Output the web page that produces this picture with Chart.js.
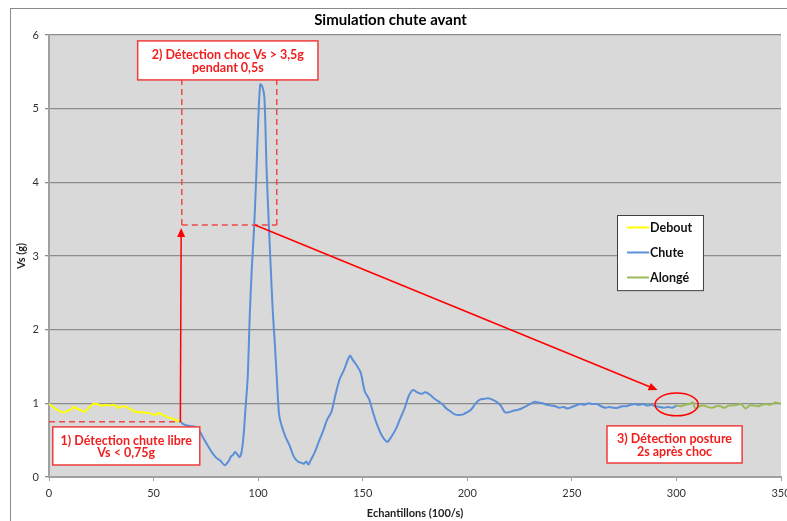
<!DOCTYPE html>
<html>
<head>
<meta charset="utf-8">
<script src="https://cdn.jsdelivr.net/npm/chart.js@4.4.0/dist/chart.umd.min.js"></script>
<style>
html, body { margin:0; padding:0; background:#fff; }
#wrap { width:787px; height:521px; }
</style>
</head>
<body>
<div id="wrap"><canvas id="chart"></canvas></div>
<script>
// echantillons (x) et Vs en g (y)
var echDebout = [0,2,4,6,7,9,10,12,13,15,17,19,21,23,25,27,29,31,33,35,37,39,41,43,45,47,49,51,52,54,56,58,60,62,63];
var vsDebout  = [0.99,0.95,0.91,0.88,0.875,0.90,0.91,0.95,0.93,0.91,0.89,0.94,0.99,0.99,0.97,0.98,0.97,0.98,0.94,0.96,0.95,0.92,0.89,0.88,0.88,0.87,0.86,0.84,0.87,0.85,0.82,0.80,0.78,0.76,0.75];

var echChute = [63,64,66,68,70,72,74,76,78,80,82,84,86,87,88,89,90,91,92,93,94,95,96,97,98,99,100,101,102,103,104,105,106,107,108,109,110,111,113,115,117,119,121,122,123,124,125,127,129,131,133,135,137,139,141,143,144,145,147,149,151,153,155,157,159,161,162,164,166,168,170,172,174,176,178,180,182,184,186,188,190,192,194,196,198,200,202,204,206,208,210,212,214,216,218,220,222,224,226,228,230,232,234,236,238,240,242,244,246,248,250,252,254,256,258,260,262,264,266,268,270,272,274,276,278,280,282,284,286,288,290,292,294,296,298,300];
var vsChute  = [0.75,0.72,0.70,0.69,0.68,0.62,0.52,0.42,0.33,0.26,0.22,0.16,0.22,0.28,0.30,0.34,0.31,0.27,0.33,0.55,0.95,1.35,2.20,2.85,3.35,4.00,4.80,5.33,5.30,5.15,4.20,3.50,2.85,2.25,1.80,1.30,0.85,0.72,0.55,0.43,0.28,0.21,0.19,0.18,0.21,0.17,0.22,0.33,0.48,0.62,0.78,0.88,1.12,1.33,1.45,1.60,1.65,1.60,1.52,1.42,1.16,1.06,0.87,0.70,0.57,0.49,0.48,0.56,0.66,0.80,0.93,1.10,1.18,1.15,1.13,1.15,1.12,1.07,1.03,0.99,0.93,0.89,0.85,0.84,0.85,0.88,0.92,1.00,1.05,1.06,1.07,1.05,1.02,0.97,0.88,0.88,0.90,0.91,0.93,0.96,0.99,1.02,1.01,1.00,0.98,0.97,0.96,0.94,0.95,0.93,0.95,0.97,0.99,0.98,1.00,0.99,0.99,0.96,0.94,0.95,0.94,0.94,0.96,0.96,0.98,0.99,0.98,0.99,0.97,0.98,0.96,0.95,0.94,0.95,0.94,0.97];

var echAllonge = [300,302,304,306,308,309,311,313,315,317,319,321,323,325,327,329,331,333,335,337,339,341,343,345,347,349,350];
var vsAllonge  = [0.97,0.96,0.98,0.99,1.01,0.93,0.96,0.97,0.95,0.94,0.96,0.96,0.94,0.97,0.97,0.98,0.99,0.93,0.97,0.97,0.96,0.98,0.99,0.98,1.01,1.00,1.00];

var xTicks = [0,50,100,150,200,250,300,350];
var yTicks = [0,1,2,3,4,5,6];

function pts(xs, ys) {
    return xs.map((x, i) => ({x: x, y: ys[i]}));
}

var rouge = "#ff0000";
var rougeClair = "#f04848";
var police = "Lato, 'Open Sans', sans-serif";

// annotations, en unites du graphique
var boites = [
    {x1:1.8, x2:72.1, y1:0.68, y2:0.163, lignes:["1) Détection chute libre","Vs < 0,75g"]},
    {x1:42.4, x2:128.6, y1:5.92, y2:5.39, lignes:["2) Détection choc Vs > 3,5g","pendant 0,5s"]},
    {x1:266.8, x2:331.4, y1:0.694, y2:0.19, lignes:["3) Détection posture","2s après choc"]}
];

function fleche(ctx, x1, y1, x2, y2) {
    var a = Math.atan2(y2 - y1, x2 - x1);
    ctx.beginPath();
    ctx.moveTo(x1, y1);
    ctx.lineTo(x2 - 6 * Math.cos(a), y2 - 6 * Math.sin(a));
    ctx.stroke();
    ctx.beginPath();
    ctx.moveTo(x2, y2);
    ctx.lineTo(x2 - 9 * Math.cos(a) + 4 * Math.sin(a), y2 - 9 * Math.sin(a) - 4 * Math.cos(a));
    ctx.lineTo(x2 - 9 * Math.cos(a) - 4 * Math.sin(a), y2 - 9 * Math.sin(a) + 4 * Math.cos(a));
    ctx.closePath();
    ctx.fill();
}

var decor = {
    id: "decor",
    beforeDraw: function(chart) {
        var ctx = chart.ctx, a = chart.chartArea;
        ctx.save();
        ctx.fillStyle = "#fff";
        ctx.fillRect(0, 0, chart.width, chart.height);
        ctx.strokeStyle = "#8a8a8a";
        ctx.lineWidth = 1;
        ctx.strokeRect(10.5, 8.5, chart.width + 20, chart.height + 20);
        ctx.fillStyle = "#d9d9d9";
        ctx.fillRect(a.left, a.top, a.right - a.left, a.bottom - a.top);
        ctx.restore();
    },
    afterDatasetsDraw: function(chart) {
        var ctx = chart.ctx;
        var sx = chart.scales.x, sy = chart.scales.y;
        var X = v => sx.getPixelForValue(v), Y = v => sy.getPixelForValue(v);
        ctx.save();

        // lignes pointillees
        ctx.strokeStyle = rougeClair;
        ctx.lineWidth = 1.5;
        ctx.setLineDash([6, 4]);
        ctx.beginPath();
        ctx.moveTo(X(0), Y(0.75)); ctx.lineTo(X(63), Y(0.75));
        ctx.moveTo(X(63.5), Y(3.42)); ctx.lineTo(X(108.9), Y(3.42));
        ctx.moveTo(X(63.5), Y(3.42)); ctx.lineTo(X(63.5), Y(5.39));
        ctx.moveTo(X(108.9), Y(3.42)); ctx.lineTo(X(108.9), Y(5.39));
        ctx.stroke();
        ctx.setLineDash([]);

        // fleches
        ctx.strokeStyle = rouge;
        ctx.fillStyle = rouge;
        ctx.lineWidth = 1.5;
        fleche(ctx, X(62.8), Y(0.75), X(63.2), Y(3.38));
        fleche(ctx, X(98.5), Y(3.42), X(291), Y(1.18));

        // ellipse
        ctx.beginPath();
        ctx.ellipse(X(300.1), Y(0.985), X(310.4) - X(300.1), Y(0.985) - Y(1.14), 0, 0, Math.PI * 2);
        ctx.stroke();

        // boites de texte
        boites.forEach(b => {
            var l = X(b.x1), r = X(b.x2), t = Y(b.y1), bo = Y(b.y2);
            ctx.fillStyle = "#fff";
            ctx.fillRect(l, t, r - l, bo - t);
            ctx.strokeStyle = "#f03c3c";
            ctx.lineWidth = 1.5;
            ctx.strokeRect(l, t, r - l, bo - t);
            ctx.fillStyle = "#f01e1e";
            ctx.font = "bold 12.5px " + police;
            ctx.textAlign = "center";
            ctx.textBaseline = "middle";
            var h = (bo - t) / (b.lignes.length + 1);
            b.lignes.forEach((s, i) => {
                ctx.fillText(s, (l + r) / 2, t + h * (i + 1) + 1);
            });
        });

        // legende
        var lx = X(271.6), ly = Y(3.55), lw = X(312.7) - lx, lh = Y(2.53) - ly;
        ctx.fillStyle = "#fff";
        ctx.fillRect(lx, ly, lw, lh);
        ctx.strokeStyle = "#404040";
        ctx.lineWidth = 1;
        ctx.strokeRect(Math.round(lx) + 0.5, Math.round(ly) + 0.5, lw, lh);
        ctx.font = "bold 12.5px " + police;
        ctx.textAlign = "left";
        ctx.textBaseline = "middle";
        chart.data.datasets.forEach((d, i) => {
            var yy = ly + 12 + i * 25;
            ctx.strokeStyle = d.borderColor;
            ctx.lineWidth = 2;
            ctx.beginPath();
            ctx.moveTo(lx + 10, yy); ctx.lineTo(lx + 32, yy);
            ctx.stroke();
            ctx.fillStyle = "#111";
            ctx.fillText(d.label, lx + 33, yy);
        });
        ctx.restore();
    }
};

new Chart(document.getElementById("chart"), {
    type: "line",
    data: {
        datasets: [
            {label:"Debout", data:pts(echDebout, vsDebout), borderColor:"#ffff00", borderWidth:2, pointRadius:0, tension:0.3},
            {label:"Chute", data:pts(echChute, vsChute), borderColor:"#5b8fd8", borderWidth:2, pointRadius:0, tension:0.3},
            {label:"Alongé", data:pts(echAllonge, vsAllonge), borderColor:"#9bbb59", borderWidth:2, pointRadius:0, tension:0.3}
        ]
    },
    options: {
        responsive: true,
        maintainAspectRatio: false,
        animation: false,
        layout: {padding: {left:0, right:6, top:0, bottom:0}},
        plugins: {
            legend: {display:false},
            tooltip: {enabled:false},
            title: {
                display: true,
                text: "Simulation chute avant",
                color: "#000",
                font: {family: police, size: 15, weight: "bold"},
                padding: {top: 11, bottom: 6}
            }
        },
        scales: {
            x: {
                type: "linear",
                min: 0, max: 350,
                afterBuildTicks: s => { s.ticks = xTicks.map(v => ({value: v})); },
                afterFit: s => { s.height = 44; s.paddingLeft = 0; s.paddingRight = 0; },
                grid: {drawOnChartArea:false, color:"#a0a0a0", tickLength:4, lineWidth:1},
                border: {color:"#a0a0a0", width:2},
                ticks: {color:"#333", font:{family:police, size:11}, padding:6, maxRotation:0},
                title: {display:true, text:"Echantillons (100/s)", color:"#222", font:{family:police, size:11, weight:"bold"}, padding:{top:0, bottom:1}}
            },
            y: {
                min: 0, max: 6,
                afterBuildTicks: s => { s.ticks = yTicks.map(v => ({value: v})); },
                afterFit: s => { s.width = 49; s.paddingTop = 0; s.paddingBottom = 0; },
                grid: {color:"#8c8c8c", lineWidth:1.3, tickLength:4},
                border: {color:"#a0a0a0", width:2},
                ticks: {color:"#333", font:{family:police, size:11}, padding:6},
                title: {display:true, text:"Vs (g)", color:"#222", font:{family:police, size:11, weight:"bold"}, padding:{top:15, bottom:0}}
            }
        }
    },
    plugins: [decor]
});
</script>
</body>
</html>
